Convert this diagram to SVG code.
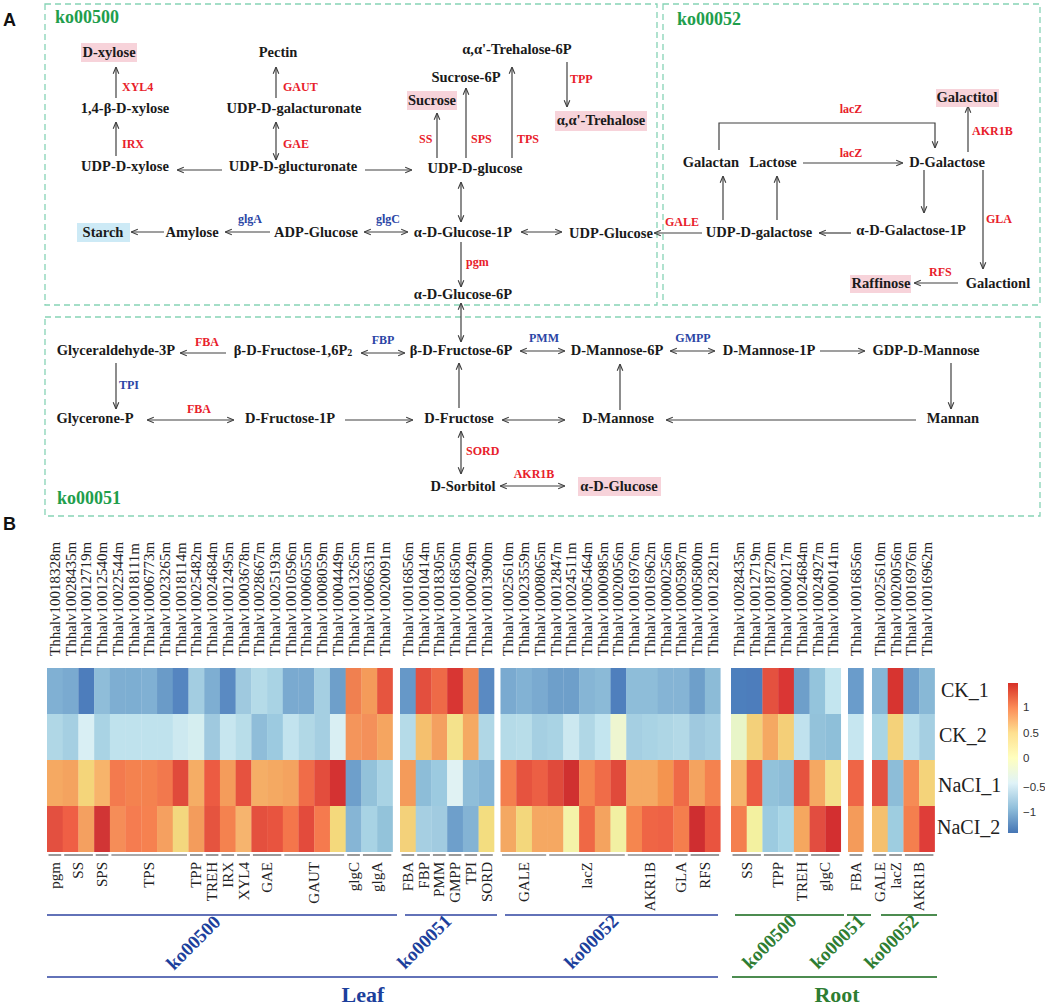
<svg xmlns="http://www.w3.org/2000/svg" width="1045" height="1007" viewBox="0 0 1045 1007">
<style>
.nd{font-family:"Liberation Serif",serif;font-weight:bold;font-size:14.5px;fill:#1a1a1a;text-anchor:middle}
.ez{font-family:"Liberation Serif",serif;font-weight:bold;font-size:12px;fill:#e8202a}
.eb{fill:#2a45a5}
.m{text-anchor:middle}
.ko{font-family:"Liberation Serif",serif;font-weight:bold;font-size:18px;fill:#1f9e4d}
.box{fill:none;stroke:#86d3b5;stroke-width:1.3;stroke-dasharray:6 4}
.hl{fill:#f7d3da}
.hb{fill:#cdeaf6}
.cn{stroke:#404040;stroke-width:1.2;fill:none}
.e{marker-end:url(#ah)}
.d{marker-start:url(#ah);marker-end:url(#ah)}
.pl{font-family:"Liberation Sans",Arial,sans-serif;font-weight:bold;font-size:18px;fill:#111}
.gid{font-family:"Liberation Serif",serif;font-size:15px;fill:#222}
.gl{font-family:"Liberation Serif",serif;font-size:15px;fill:#222;text-anchor:end}
.br{stroke:#555;stroke-width:1.2}
.rl{font-family:"Liberation Serif",serif;font-size:20px;fill:#222}
.tk{font-family:"Liberation Sans",Arial,sans-serif;font-size:11.5px;fill:#333}
.kb{font-family:"Liberation Serif",serif;font-weight:bold;font-size:19px;fill:#1c3f9c}
.kg{font-family:"Liberation Serif",serif;font-weight:bold;font-size:19px;fill:#2e7d32}
.lb{stroke:#6272b8;stroke-width:2}
.lg{stroke:#4c8c50;stroke-width:2}
</style>
<defs>
<marker id="ah" viewBox="0 0 10 10" refX="9.5" refY="5" markerWidth="8" markerHeight="8" markerUnits="userSpaceOnUse" orient="auto-start-reverse"><path d="M1,1.5 L9.5,5 L1,8.5" fill="none" stroke="#404040" stroke-width="1.4"/></marker>
<linearGradient id="cb" x1="0" y1="0" x2="0" y2="1">
<stop offset="0" stop-color="#D73027"/><stop offset="0.167" stop-color="#FC8D59"/><stop offset="0.333" stop-color="#FEE090"/><stop offset="0.5" stop-color="#FFFFBF"/><stop offset="0.667" stop-color="#E0F3F8"/><stop offset="0.833" stop-color="#91BFDB"/><stop offset="1" stop-color="#4575B4"/>
</linearGradient>
</defs>
<rect width="1045" height="1007" fill="#fff"/>
<text class="pl" x="3" y="26">A</text>
<text class="pl" x="3" y="530">B</text>

<g id="boxes">
<rect class="box" x="45" y="4" width="612" height="301"/>
<rect class="box" x="663" y="4" width="377" height="301"/>
<rect class="box" x="45" y="317" width="995" height="199"/>
<text class="ko" x="55" y="23">ko00500</text>
<text class="ko" x="677" y="25">ko00052</text>
<text class="ko" x="57" y="504">ko00051</text>
</g>

<g id="connectors">
<line class="cn e" x1="116" y1="98" x2="116" y2="67"/>
<line class="cn e" x1="116" y1="156" x2="116" y2="122"/>
<line class="cn e" x1="276" y1="98" x2="276" y2="67"/>
<line class="cn d" x1="276" y1="160" x2="276" y2="122"/>
<line class="cn e" x1="222" y1="170" x2="177" y2="170"/>
<line class="cn e" x1="365" y1="170" x2="412" y2="170"/>
<line class="cn e" x1="437" y1="158" x2="437" y2="113"/>
<line class="cn e" x1="466" y1="158" x2="466" y2="88"/>
<line class="cn e" x1="512" y1="158" x2="512" y2="67"/>
<line class="cn e" x1="567" y1="62" x2="567" y2="107"/>
<line class="cn d" x1="461" y1="182" x2="461" y2="222"/>
<line class="cn e" x1="164" y1="232" x2="131" y2="232"/>
<line class="cn e" x1="270" y1="232" x2="225" y2="232"/>
<line class="cn d" x1="364" y1="232" x2="408" y2="232"/>
<line class="cn d" x1="521" y1="232" x2="562" y2="232"/>
<line class="cn e" x1="461" y1="242" x2="461" y2="287"/>
<line class="cn d" x1="461" y1="303" x2="461" y2="342"/>
<line class="cn e" x1="968" y1="152" x2="968" y2="106"/>
<polyline class="cn e" points="719,150 719,123 935,123 935,148"/>
<line class="cn e" x1="803" y1="163" x2="903" y2="163"/>
<line class="cn e" x1="924" y1="170" x2="924" y2="213"/>
<line class="cn e" x1="851" y1="233" x2="819" y2="233"/>
<line class="cn e" x1="723" y1="220" x2="723" y2="176"/>
<line class="cn e" x1="777" y1="220" x2="777" y2="176"/>
<line class="cn e" x1="702" y1="233" x2="654" y2="233"/>
<line class="cn e" x1="983" y1="170" x2="983" y2="269"/>
<line class="cn e" x1="958" y1="283" x2="914" y2="283"/>
<line class="cn e" x1="226" y1="353" x2="180" y2="353"/>
<line class="cn d" x1="361" y1="353" x2="405" y2="353"/>
<line class="cn d" x1="520" y1="351" x2="565" y2="351"/>
<line class="cn d" x1="670" y1="351" x2="715" y2="351"/>
<line class="cn e" x1="820" y1="351" x2="865" y2="351"/>
<line class="cn e" x1="116" y1="363" x2="116" y2="409"/>
<line class="cn d" x1="147" y1="420" x2="234" y2="420"/>
<line class="cn e" x1="345" y1="420" x2="413" y2="420"/>
<line class="cn e" x1="459" y1="408" x2="459" y2="363"/>
<line class="cn d" x1="502" y1="420" x2="565" y2="420"/>
<line class="cn e" x1="951" y1="363" x2="951" y2="409"/>
<line class="cn e" x1="916" y1="420" x2="666" y2="420"/>
<line class="cn e" x1="620" y1="410" x2="620" y2="364"/>
<line class="cn d" x1="461" y1="431" x2="461" y2="474"/>
<line class="cn d" x1="500" y1="486" x2="565" y2="486"/>
</g>

<g id="enzymes">
<text class="ez" x="122" y="91">XYL4</text>
<text class="ez" x="122" y="148">IRX</text>
<text class="ez" x="283" y="91">GAUT</text>
<text class="ez" x="283" y="148">GAE</text>
<text class="ez" x="419" y="143">SS</text>
<text class="ez" x="471" y="143">SPS</text>
<text class="ez" x="517" y="143">TPS</text>
<text class="ez" x="570" y="83">TPP</text>
<text class="ez" x="466" y="266">pgm</text>
<text class="ez eb m" x="250" y="223">glgA</text>
<text class="ez eb m" x="388" y="223">glgC</text>
<text class="ez" x="972" y="135">AKR1B</text>
<text class="ez m" x="851" y="113">lacZ</text>
<text class="ez m" x="851" y="157">lacZ</text>
<text class="ez m" x="682" y="226">GALE</text>
<text class="ez" x="986" y="223">GLA</text>
<text class="ez" x="929" y="276">RFS</text>
<text class="ez m" x="207" y="346">FBA</text>
<text class="ez eb m" x="383" y="344">FBP</text>
<text class="ez eb m" x="544" y="342">PMM</text>
<text class="ez eb m" x="693" y="342">GMPP</text>
<text class="ez eb" x="119" y="389">TPI</text>
<text class="ez m" x="199" y="413">FBA</text>
<text class="ez" x="466" y="455">SORD</text>
<text class="ez m" x="534" y="478">AKR1B</text>
</g>

<g id="n_dxylose"><rect class="hl" x="81" y="43" width="56" height="19"/><text class="nd" x="109" y="57">D-xylose</text></g>
<g id="n_14bdxylose"><text class="nd" x="125" y="113">1,4-β-D-xylose</text></g>
<g id="n_udpdxylose"><text class="nd" x="125" y="171">UDP-D-xylose</text></g>
<g id="n_pectin"><text class="nd" x="278" y="57">Pectin</text></g>
<g id="n_udpdgalacturonate"><text class="nd" x="294" y="113">UDP-D-galacturonate</text></g>
<g id="n_udpdglucturonate"><text class="nd" x="293" y="171">UDP-D-glucturonate</text></g>
<g id="n_udpdglucose"><text class="nd" x="475" y="173">UDP-D-glucose</text></g>
<g id="n_sucrose"><rect class="hl" x="407" y="91" width="50" height="19"/><text class="nd" x="432" y="105">Sucrose</text></g>
<g id="n_sucrose6p"><text class="nd" x="466" y="82">Sucrose-6P</text></g>
<g id="n_trehalose6p"><text class="nd" x="517" y="54">α,α'-Trehalose-6P</text></g>
<g id="n_trehalose"><rect class="hl" x="555" y="111" width="92" height="20"/><text class="nd" x="601" y="125">α,α'-Trehalose</text></g>
<g id="n_starch"><rect class="hb" x="77" y="223" width="53" height="19"/><text class="nd" x="103" y="237">Starch</text></g>
<g id="n_amylose"><text class="nd" x="192" y="237">Amylose</text></g>
<g id="n_adpglucose"><text class="nd" x="316" y="237">ADP-Glucose</text></g>
<g id="n_aglucose1p"><text class="nd" x="463" y="237">α-D-Glucose-1P</text></g>
<g id="n_udpglucose"><text class="nd" x="611" y="238">UDP-Glucose</text></g>
<g id="n_aglucose6p"><text class="nd" x="463" y="299">α-D-Glucose-6P</text></g>

<g id="n_galactitol"><rect class="hl" x="936" y="89" width="63" height="18"/><text class="nd" x="967" y="102">Galactitol</text></g>
<g id="n_galactan"><text class="nd" x="711" y="167">Galactan</text></g>
<g id="n_lactose"><text class="nd" x="773" y="167">Lactose</text></g>
<g id="n_dgalactose"><text class="nd" x="947" y="167">D-Galactose</text></g>
<g id="n_agalactose1p"><text class="nd" x="911" y="235">α-D-Galactose-1P</text></g>
<g id="n_udpdgalactose"><text class="nd" x="759" y="237">UDP-D-galactose</text></g>
<g id="n_galactionl"><text class="nd" x="998" y="288">Galactionl</text></g>
<g id="n_raffinose"><rect class="hl" x="850" y="275" width="61" height="18"/><text class="nd" x="881" y="288">Raffinose</text></g>

<g id="n_glyceraldehyde3p"><text class="nd" x="116" y="355">Glyceraldehyde-3P</text></g>
<g id="n_bdfructose16p2"><text class="nd" x="293" y="355">β-D-Fructose-1,6P<tspan font-size="10" dy="1">2</tspan></text></g>
<g id="n_bdfructose6p"><text class="nd" x="461" y="355">β-D-Fructose-6P</text></g>
<g id="n_dmannose6p"><text class="nd" x="617" y="355">D-Mannose-6P</text></g>
<g id="n_dmannose1p"><text class="nd" x="769" y="355">D-Mannose-1P</text></g>
<g id="n_gdpdmannose"><text class="nd" x="926" y="355">GDP-D-Mannose</text></g>
<g id="n_glyceronep"><text class="nd" x="95" y="423">Glycerone-P</text></g>
<g id="n_dfructose1p"><text class="nd" x="290" y="423">D-Fructose-1P</text></g>
<g id="n_dfructose"><text class="nd" x="459" y="423">D-Fructose</text></g>
<g id="n_dmannose"><text class="nd" x="618" y="423">D-Mannose</text></g>
<g id="n_mannan"><text class="nd" x="953" y="423">Mannan</text></g>
<g id="n_dsorbitol"><text class="nd" x="463" y="491">D-Sorbitol</text></g>
<g id="n_aglucose"><rect class="hl" x="578" y="477" width="83" height="19"/><text class="nd" x="619" y="491">α-D-Glucose</text></g>

<g id="heatmap">
<g transform="translate(0,668)">
<rect x="47" width="16" height="46" fill="#80b0d3"/><rect x="62.72" width="16" height="46" fill="#7aaad0"/><rect x="78.44" width="16" height="46" fill="#4d7dbc"/><rect x="94.16" width="16" height="46" fill="#8fbdd9"/><rect x="109.88" width="16" height="46" fill="#7eaed2"/><rect x="125.6" width="16" height="46" fill="#7daed2"/><rect x="141.32" width="16" height="46" fill="#80b0d3"/><rect x="157.04" width="16" height="46" fill="#6a9bc8"/><rect x="172.76" width="16" height="46" fill="#5585c0"/><rect x="188.48" width="16" height="46" fill="#a3cde1"/><rect x="204.2" width="16" height="46" fill="#7eaed2"/><rect x="219.92" width="16" height="46" fill="#5a8ac2"/><rect x="235.64" width="16" height="46" fill="#9fc9df"/><rect x="251.36" width="16" height="46" fill="#b5dbe8"/><rect x="267.08" width="16" height="46" fill="#a9d3e4"/><rect x="282.8" width="16" height="46" fill="#7aaad0"/><rect x="298.52" width="16" height="46" fill="#7aaad0"/><rect x="314.24" width="16" height="46" fill="#a5cfe2"/><rect x="329.96" width="16" height="46" fill="#6e9fca"/><rect x="345.68" width="16" height="46" fill="#f08050"/><rect x="361.4" width="16" height="46" fill="#f49b5a"/><rect x="377.12" width="15.72" height="46" fill="#e6553f"/>
<rect x="400" width="16" height="46" fill="#6698c8"/><rect x="415.72" width="16" height="46" fill="#e34f3e"/><rect x="431.44" width="16" height="46" fill="#ee6a47"/><rect x="447.16" width="16" height="46" fill="#d83633"/><rect x="462.88" width="16" height="46" fill="#f08350"/><rect x="478.6" width="15.72" height="46" fill="#5a8ac2"/>
<rect x="500.5" width="16" height="46" fill="#7aaad0"/><rect x="516.22" width="16" height="46" fill="#82b2d4"/><rect x="531.94" width="16" height="46" fill="#7aaad0"/><rect x="547.66" width="16" height="46" fill="#6e9fca"/><rect x="563.38" width="16" height="46" fill="#6e9fca"/><rect x="579.1" width="16" height="46" fill="#86b5d5"/><rect x="594.82" width="16" height="46" fill="#8bbad7"/><rect x="610.54" width="16" height="46" fill="#4f7fbd"/><rect x="626.26" width="16" height="46" fill="#8ebdd9"/><rect x="641.98" width="16" height="46" fill="#8ebdd9"/><rect x="657.7" width="16" height="46" fill="#85b4d5"/><rect x="673.42" width="16" height="46" fill="#85b4d5"/><rect x="689.14" width="16" height="46" fill="#6e9fca"/><rect x="704.86" width="15.72" height="46" fill="#8cbbd7"/>
<rect x="731" width="16" height="46" fill="#4d7fbd"/><rect x="746.72" width="16" height="46" fill="#4d7dbc"/><rect x="762.44" width="16" height="46" fill="#e4513f"/><rect x="778.16" width="16" height="46" fill="#da3634"/><rect x="793.88" width="16" height="46" fill="#6e9fca"/><rect x="809.6" width="16" height="46" fill="#94c4dc"/><rect x="825.32" width="15.72" height="46" fill="#c3e5ef"/>
<rect x="848" width="15.72" height="46" fill="#6a9ccb"/>
<rect x="872" width="16" height="46" fill="#86b6d6"/><rect x="887.72" width="16" height="46" fill="#d73430"/><rect x="903.44" width="16" height="46" fill="#6e9fcb"/><rect x="919.16" width="15.72" height="46" fill="#88b8d6"/>
</g>
<g transform="translate(0,714)">
<rect x="47" width="16" height="46" fill="#b0d7e6"/><rect x="62.72" width="16" height="46" fill="#a5cfe2"/><rect x="78.44" width="16" height="46" fill="#d9eff4"/><rect x="94.16" width="16" height="46" fill="#a9d3e4"/><rect x="109.88" width="16" height="46" fill="#bfe2ed"/><rect x="125.6" width="16" height="46" fill="#bfe2ed"/><rect x="141.32" width="16" height="46" fill="#bfe2ed"/><rect x="157.04" width="16" height="46" fill="#bfe2ed"/><rect x="172.76" width="16" height="46" fill="#cde9f0"/><rect x="188.48" width="16" height="46" fill="#d5eef0"/><rect x="204.2" width="16" height="46" fill="#9fc9df"/><rect x="219.92" width="16" height="46" fill="#c7e6ef"/><rect x="235.64" width="16" height="46" fill="#b8dde9"/><rect x="251.36" width="16" height="46" fill="#8fbdd9"/><rect x="267.08" width="16" height="46" fill="#9ccae0"/><rect x="282.8" width="16" height="46" fill="#c2e3ee"/><rect x="298.52" width="16" height="46" fill="#b1d8e6"/><rect x="314.24" width="16" height="46" fill="#a5cfe2"/><rect x="329.96" width="16" height="46" fill="#d9eff3"/><rect x="345.68" width="16" height="46" fill="#f4955b"/><rect x="361.4" width="16" height="46" fill="#f4905a"/><rect x="377.12" width="15.72" height="46" fill="#f5a560"/>
<rect x="400" width="16" height="46" fill="#b5dbe8"/><rect x="415.72" width="16" height="46" fill="#f5c06e"/><rect x="431.44" width="16" height="46" fill="#f4a060"/><rect x="447.16" width="16" height="46" fill="#f4e28c"/><rect x="462.88" width="16" height="46" fill="#f5a962"/><rect x="478.6" width="15.72" height="46" fill="#b0d7e6"/>
<rect x="500.5" width="16" height="46" fill="#b5dbe8"/><rect x="516.22" width="16" height="46" fill="#b8dde9"/><rect x="531.94" width="16" height="46" fill="#a5cfe2"/><rect x="547.66" width="16" height="46" fill="#a9d3e4"/><rect x="563.38" width="16" height="46" fill="#cce8f0"/><rect x="579.1" width="16" height="46" fill="#b0d7e6"/><rect x="594.82" width="16" height="46" fill="#c3e5ef"/><rect x="610.54" width="16" height="46" fill="#eef6d0"/><rect x="626.26" width="16" height="46" fill="#a5cfe2"/><rect x="641.98" width="16" height="46" fill="#a9d3e4"/><rect x="657.7" width="16" height="46" fill="#aed6e5"/><rect x="673.42" width="16" height="46" fill="#b3d9e7"/><rect x="689.14" width="16" height="46" fill="#9fc9df"/><rect x="704.86" width="15.72" height="46" fill="#a5cfe2"/>
<rect x="731" width="16" height="46" fill="#e8f5c8"/><rect x="746.72" width="16" height="46" fill="#f3d07a"/><rect x="762.44" width="16" height="46" fill="#f5a862"/><rect x="778.16" width="16" height="46" fill="#f4cf78"/><rect x="793.88" width="16" height="46" fill="#c0e2ee"/><rect x="809.6" width="16" height="46" fill="#93c2da"/><rect x="825.32" width="15.72" height="46" fill="#8ebfd9"/>
<rect x="848" width="15.72" height="46" fill="#c6e6f0"/>
<rect x="872" width="16" height="46" fill="#a9d5e5"/><rect x="887.72" width="16" height="46" fill="#f4d27a"/><rect x="903.44" width="16" height="46" fill="#bce0ec"/><rect x="919.16" width="15.72" height="46" fill="#a5cfe2"/>
</g>
<g transform="translate(0,760)">
<rect x="47" width="16" height="46" fill="#f5a962"/><rect x="62.72" width="16" height="46" fill="#f4a35f"/><rect x="78.44" width="16" height="46" fill="#f4d57a"/><rect x="94.16" width="16" height="46" fill="#f7b46b"/><rect x="109.88" width="16" height="46" fill="#f37a4e"/><rect x="125.6" width="16" height="46" fill="#f4824f"/><rect x="141.32" width="16" height="46" fill="#f4824f"/><rect x="157.04" width="16" height="46" fill="#f2784d"/><rect x="172.76" width="16" height="46" fill="#e04a3b"/><rect x="188.48" width="16" height="46" fill="#f5ad65"/><rect x="204.2" width="16" height="46" fill="#ec5b42"/><rect x="219.92" width="16" height="46" fill="#f49c5b"/><rect x="235.64" width="16" height="46" fill="#e6523f"/><rect x="251.36" width="16" height="46" fill="#f5ae66"/><rect x="267.08" width="16" height="46" fill="#f4a962"/><rect x="282.8" width="16" height="46" fill="#f4a35f"/><rect x="298.52" width="16" height="46" fill="#f06c48"/><rect x="314.24" width="16" height="46" fill="#e34d3d"/><rect x="329.96" width="16" height="46" fill="#d43232"/><rect x="345.68" width="16" height="46" fill="#6e9fcb"/><rect x="361.4" width="16" height="46" fill="#93c2da"/><rect x="377.12" width="15.72" height="46" fill="#a9d3e4"/>
<rect x="400" width="16" height="46" fill="#f49b5a"/><rect x="415.72" width="16" height="46" fill="#8dbdd8"/><rect x="431.44" width="16" height="46" fill="#9ccae0"/><rect x="447.16" width="16" height="46" fill="#e0f2f3"/><rect x="462.88" width="16" height="46" fill="#8fbed9"/><rect x="478.6" width="15.72" height="46" fill="#86b6d6"/>
<rect x="500.5" width="16" height="46" fill="#f47f4e"/><rect x="516.22" width="16" height="46" fill="#e6533f"/><rect x="531.94" width="16" height="46" fill="#ec5f44"/><rect x="547.66" width="16" height="46" fill="#e04a3b"/><rect x="563.38" width="16" height="46" fill="#d03030"/><rect x="579.1" width="16" height="46" fill="#f4874f"/><rect x="594.82" width="16" height="46" fill="#f06c48"/><rect x="610.54" width="16" height="46" fill="#e04a3b"/><rect x="626.26" width="16" height="46" fill="#f5a962"/><rect x="641.98" width="16" height="46" fill="#f5a962"/><rect x="657.7" width="16" height="46" fill="#f4944f"/><rect x="673.42" width="16" height="46" fill="#ef6a47"/><rect x="689.14" width="16" height="46" fill="#f4a35f"/><rect x="704.86" width="15.72" height="46" fill="#f4824f"/>
<rect x="731" width="16" height="46" fill="#f5b46a"/><rect x="746.72" width="16" height="46" fill="#ec5b42"/><rect x="762.44" width="16" height="46" fill="#92c2da"/><rect x="778.16" width="16" height="46" fill="#8dbdd8"/><rect x="793.88" width="16" height="46" fill="#e6523f"/><rect x="809.6" width="16" height="46" fill="#f5a862"/><rect x="825.32" width="15.72" height="46" fill="#f4e08a"/>
<rect x="848" width="15.72" height="46" fill="#ef6546"/>
<rect x="872" width="16" height="46" fill="#e45040"/><rect x="887.72" width="16" height="46" fill="#8dbdd8"/><rect x="903.44" width="16" height="46" fill="#f68b55"/><rect x="919.16" width="15.72" height="46" fill="#f4d37a"/>
</g>
<g transform="translate(0,806)">
<rect x="47" width="16" height="46" fill="#e35040"/><rect x="62.72" width="16" height="46" fill="#ef5f45"/><rect x="78.44" width="16" height="46" fill="#f4a060"/><rect x="94.16" width="16" height="46" fill="#d13535"/><rect x="109.88" width="16" height="46" fill="#f58d58"/><rect x="125.6" width="16" height="46" fill="#f57c50"/><rect x="141.32" width="16" height="46" fill="#f68150"/><rect x="157.04" width="16" height="46" fill="#f5a060"/><rect x="172.76" width="16" height="46" fill="#f3d77e"/><rect x="188.48" width="16" height="46" fill="#f39c5c"/><rect x="204.2" width="16" height="46" fill="#e5543f"/><rect x="219.92" width="16" height="46" fill="#f4824f"/><rect x="235.64" width="16" height="46" fill="#f6b46e"/><rect x="251.36" width="16" height="46" fill="#e4503e"/><rect x="267.08" width="16" height="46" fill="#e8543f"/><rect x="282.8" width="16" height="46" fill="#f4764b"/><rect x="298.52" width="16" height="46" fill="#e34b3c"/><rect x="314.24" width="16" height="46" fill="#f57a4e"/><rect x="329.96" width="16" height="46" fill="#f4d97c"/><rect x="345.68" width="16" height="46" fill="#86b5d5"/><rect x="361.4" width="16" height="46" fill="#a8d3e4"/><rect x="377.12" width="15.72" height="46" fill="#93c3da"/>
<rect x="400" width="16" height="46" fill="#f3d17a"/><rect x="415.72" width="16" height="46" fill="#a6cfe2"/><rect x="431.44" width="16" height="46" fill="#a1cbe0"/><rect x="447.16" width="16" height="46" fill="#6e9fcb"/><rect x="462.88" width="16" height="46" fill="#84b3d4"/><rect x="478.6" width="15.72" height="46" fill="#f3dd80"/>
<rect x="500.5" width="16" height="46" fill="#f4a862"/><rect x="516.22" width="16" height="46" fill="#f3d77c"/><rect x="531.94" width="16" height="46" fill="#f5a862"/><rect x="547.66" width="16" height="46" fill="#f5a862"/><rect x="563.38" width="16" height="46" fill="#f4f3a8"/><rect x="579.1" width="16" height="46" fill="#ef6845"/><rect x="594.82" width="16" height="46" fill="#f4a35f"/><rect x="610.54" width="16" height="46" fill="#f2f0a2"/><rect x="626.26" width="16" height="46" fill="#f5864f"/><rect x="641.98" width="16" height="46" fill="#ef6545"/><rect x="657.7" width="16" height="46" fill="#ee6245"/><rect x="673.42" width="16" height="46" fill="#f47e4d"/><rect x="689.14" width="16" height="46" fill="#cf2e30"/><rect x="704.86" width="15.72" height="46" fill="#e9543f"/>
<rect x="731" width="16" height="46" fill="#f47f4e"/><rect x="746.72" width="16" height="46" fill="#f3f1a0"/><rect x="762.44" width="16" height="46" fill="#9ccbe0"/><rect x="778.16" width="16" height="46" fill="#a9d6e6"/><rect x="793.88" width="16" height="46" fill="#f5a75f"/><rect x="809.6" width="16" height="46" fill="#e24d40"/><rect x="825.32" width="15.72" height="46" fill="#d32f30"/>
<rect x="848" width="15.72" height="46" fill="#f49b5a"/>
<rect x="872" width="16" height="46" fill="#f5c06e"/><rect x="887.72" width="16" height="46" fill="#9ecde0"/><rect x="903.44" width="16" height="46" fill="#f47f4e"/><rect x="919.16" width="15.72" height="46" fill="#df3d38"/>
</g>
</g>

<g id="gene_ids" class="gid">
<text transform="translate(59.9,656) rotate(-90)">Thhalv10018328m</text>
<text transform="translate(75.6,656) rotate(-90)">Thhalv10028435m</text>
<text transform="translate(91.3,656) rotate(-90)">Thhalv10012719m</text>
<text transform="translate(107,656) rotate(-90)">Thhalv10012540m</text>
<text transform="translate(122.7,656) rotate(-90)">Thhalv10022544m</text>
<text transform="translate(138.5,656) rotate(-90)">Thhalv10018111m</text>
<text transform="translate(154.2,656) rotate(-90)">Thhalv10006773m</text>
<text transform="translate(169.9,656) rotate(-90)">Thhalv10023265m</text>
<text transform="translate(185.6,656) rotate(-90)">Thhalv10018114m</text>
<text transform="translate(201.3,656) rotate(-90)">Thhalv10025482m</text>
<text transform="translate(217.1,656) rotate(-90)">Thhalv10024684m</text>
<text transform="translate(232.8,656) rotate(-90)">Thhalv10012495m</text>
<text transform="translate(248.5,656) rotate(-90)">Thhalv10003678m</text>
<text transform="translate(264.2,656) rotate(-90)">Thhalv10028667m</text>
<text transform="translate(279.9,656) rotate(-90)">Thhalv10025193m</text>
<text transform="translate(295.7,656) rotate(-90)">Thhalv10010596m</text>
<text transform="translate(311.4,656) rotate(-90)">Thhalv10006055m</text>
<text transform="translate(327.1,656) rotate(-90)">Thhalv10008059m</text>
<text transform="translate(342.8,656) rotate(-90)">Thhalv10004449m</text>
<text transform="translate(358.5,656) rotate(-90)">Thhalv10013265m</text>
<text transform="translate(374.3,656) rotate(-90)">Thhalv10006631m</text>
<text transform="translate(390,656) rotate(-90)">Thhalv10020091m</text>
<text transform="translate(412.9,656) rotate(-90)">Thhalv10016856m</text>
<text transform="translate(428.6,656) rotate(-90)">Thhalv10010414m</text>
<text transform="translate(444.3,656) rotate(-90)">Thhalv10018305m</text>
<text transform="translate(460,656) rotate(-90)">Thhalv10016850m</text>
<text transform="translate(475.7,656) rotate(-90)">Thhalv10000249m</text>
<text transform="translate(491.5,656) rotate(-90)">Thhalv10013900m</text>
<text transform="translate(513.4,656) rotate(-90)">Thhalv10025610m</text>
<text transform="translate(529.1,656) rotate(-90)">Thhalv10023559m</text>
<text transform="translate(544.8,656) rotate(-90)">Thhalv10008065m</text>
<text transform="translate(560.5,656) rotate(-90)">Thhalv10012847m</text>
<text transform="translate(576.2,656) rotate(-90)">Thhalv10024511m</text>
<text transform="translate(592,656) rotate(-90)">Thhalv10005464m</text>
<text transform="translate(607.7,656) rotate(-90)">Thhalv10000985m</text>
<text transform="translate(623.4,656) rotate(-90)">Thhalv10020056m</text>
<text transform="translate(639.1,656) rotate(-90)">Thhalv10016976m</text>
<text transform="translate(654.8,656) rotate(-90)">Thhalv10016962m</text>
<text transform="translate(670.6,656) rotate(-90)">Thhalv10000256m</text>
<text transform="translate(686.3,656) rotate(-90)">Thhalv10005987m</text>
<text transform="translate(702,656) rotate(-90)">Thhalv10005800m</text>
<text transform="translate(717.7,656) rotate(-90)">Thhalv10012821m</text>
<text transform="translate(743.9,656) rotate(-90)">Thhalv10028435m</text>
<text transform="translate(759.6,656) rotate(-90)">Thhalv10012719m</text>
<text transform="translate(775.3,656) rotate(-90)">Thhalv10018720m</text>
<text transform="translate(791,656) rotate(-90)">Thhalv10000217m</text>
<text transform="translate(806.7,656) rotate(-90)">Thhalv10024684m</text>
<text transform="translate(822.5,656) rotate(-90)">Thhalv10024927m</text>
<text transform="translate(838.2,656) rotate(-90)">Thhalv10000141m</text>
<text transform="translate(860.9,656) rotate(-90)">Thhalv10016856m</text>
<text transform="translate(884.9,656) rotate(-90)">Thhalv10025610m</text>
<text transform="translate(900.6,656) rotate(-90)">Thhalv10020056m</text>
<text transform="translate(916.3,656) rotate(-90)">Thhalv10016976m</text>
<text transform="translate(932,656) rotate(-90)">Thhalv10016962m</text>
</g>

<g id="row_labels" class="rl">
<text x="941" y="697">CK_1</text>
<text x="939" y="742">CK_2</text>
<text x="938" y="792">NaCI_1</text>
<text x="937" y="834">NaCI_2</text>
</g>

<g id="colorbar">
<rect x="1008" y="683" width="10" height="150" fill="url(#cb)"/>
<text class="tk" x="1023" y="711">1</text>
<text class="tk" x="1023" y="737">0.5</text>
<text class="tk" x="1023" y="762">0</text>
<text class="tk" x="1023" y="791">−0.5</text>
<text class="tk" x="1023" y="816">−1</text>
</g>

<g id="gene_brackets">
<line class="br" x1="48.5" y1="855" x2="61.2" y2="855"/>
<line class="br" x1="64.2" y1="855" x2="92.9" y2="855"/>
<line class="br" x1="95.7" y1="855" x2="108.4" y2="855"/>
<line class="br" x1="111.4" y1="855" x2="187" y2="855"/>
<line class="br" x1="190" y1="855" x2="202.7" y2="855"/>
<line class="br" x1="205.7" y1="855" x2="218.4" y2="855"/>
<line class="br" x1="221.4" y1="855" x2="234.1" y2="855"/>
<line class="br" x1="237.1" y1="855" x2="249.9" y2="855"/>
<line class="br" x1="252.9" y1="855" x2="281.3" y2="855"/>
<line class="br" x1="284.3" y1="855" x2="344.2" y2="855"/>
<line class="br" x1="347.2" y1="855" x2="359.9" y2="855"/>
<line class="br" x1="362.9" y1="855" x2="391.3" y2="855"/>
<line class="br" x1="401.5" y1="855" x2="414.2" y2="855"/>
<line class="br" x1="417.2" y1="855" x2="429.9" y2="855"/>
<line class="br" x1="432.9" y1="855" x2="445.7" y2="855"/>
<line class="br" x1="448.7" y1="855" x2="461.4" y2="855"/>
<line class="br" x1="464.4" y1="855" x2="477.1" y2="855"/>
<line class="br" x1="480.1" y1="855" x2="492.8" y2="855"/>
<line class="br" x1="502" y1="855" x2="546.2" y2="855"/>
<line class="br" x1="549.2" y1="855" x2="624.8" y2="855"/>
<line class="br" x1="627.8" y1="855" x2="671.9" y2="855"/>
<line class="br" x1="674.9" y1="855" x2="687.6" y2="855"/>
<line class="br" x1="690.6" y1="855" x2="719.1" y2="855"/>
<line class="br" x1="732.5" y1="855" x2="760.9" y2="855"/>
<line class="br" x1="763.9" y1="855" x2="792.4" y2="855"/>
<line class="br" x1="795.4" y1="855" x2="808.1" y2="855"/>
<line class="br" x1="811.1" y1="855" x2="839.5" y2="855"/>
<line class="br" x1="849.5" y1="855" x2="862.2" y2="855"/>
<line class="br" x1="873.5" y1="855" x2="886.2" y2="855"/>
<line class="br" x1="889.2" y1="855" x2="901.9" y2="855"/>
<line class="br" x1="904.9" y1="855" x2="933.4" y2="855"/>
</g>

<g id="gene_labels" class="gl">
<text transform="translate(59.9,862) rotate(-90)">pgm</text>
<text transform="translate(83.4,862) rotate(-90)">SS</text>
<text transform="translate(107,862) rotate(-90)">SPS</text>
<text transform="translate(154.2,862) rotate(-90)">TPS</text>
<text transform="translate(201.3,862) rotate(-90)">TPP</text>
<text transform="translate(217.1,862) rotate(-90)">TREH</text>
<text transform="translate(232.8,862) rotate(-90)">IRX</text>
<text transform="translate(248.5,862) rotate(-90)">XYL4</text>
<text transform="translate(272.1,862) rotate(-90)">GAE</text>
<text transform="translate(319.2,862) rotate(-90)">GAUT</text>
<text transform="translate(358.5,862) rotate(-90)">glgC</text>
<text transform="translate(382.1,862) rotate(-90)">glgA</text>
<text transform="translate(412.9,862) rotate(-90)">FBA</text>
<text transform="translate(428.6,862) rotate(-90)">FBP</text>
<text transform="translate(444.3,862) rotate(-90)">PMM</text>
<text transform="translate(460,862) rotate(-90)">GMPP</text>
<text transform="translate(475.7,862) rotate(-90)">TPI</text>
<text transform="translate(491.5,862) rotate(-90)">SORD</text>
<text transform="translate(529.1,862) rotate(-90)">GALE</text>
<text transform="translate(592,862) rotate(-90)">lacZ</text>
<text transform="translate(654.8,862) rotate(-90)">AKR1B</text>
<text transform="translate(686.3,862) rotate(-90)">GLA</text>
<text transform="translate(709.9,862) rotate(-90)">RFS</text>
<text transform="translate(751.7,862) rotate(-90)">SS</text>
<text transform="translate(783.2,862) rotate(-90)">TPP</text>
<text transform="translate(806.7,862) rotate(-90)">TREH</text>
<text transform="translate(830.3,862) rotate(-90)">glgC</text>
<text transform="translate(860.9,862) rotate(-90)">FBA</text>
<text transform="translate(884.9,862) rotate(-90)">GALE</text>
<text transform="translate(900.6,862) rotate(-90)">lacZ</text>
<text transform="translate(924.2,862) rotate(-90)">AKR1B</text>
</g>

<g id="pathway_groups">
<line class="lb" x1="47" y1="915" x2="397" y2="915"/>
<line class="lb" x1="405" y1="915" x2="497" y2="915"/>
<line class="lb" x1="505" y1="915" x2="718" y2="915"/>
<line class="lg" x1="735" y1="915" x2="844" y2="915"/>
<line class="lg" x1="847" y1="915" x2="871" y2="915"/>
<line class="lg" x1="881" y1="915" x2="937" y2="915"/>
<text class="kb" transform="translate(174,971) rotate(-45)">ko00500</text>
<text class="kb" transform="translate(405,970) rotate(-45)">ko00051</text>
<text class="kb" transform="translate(572,970) rotate(-45)">ko00052</text>
<text class="kg" transform="translate(750,970) rotate(-45)">ko00500</text>
<text class="kg" transform="translate(818,970) rotate(-45)">ko00051</text>
<text class="kg" transform="translate(872,970) rotate(-45)">ko00052</text>
<line class="lb" x1="47" y1="977" x2="718" y2="977"/>
<line class="lg" x1="732" y1="977" x2="937" y2="977"/>
<text class="kb" x="363" y="1002" font-size="22" text-anchor="middle" style="font-size:22px">Leaf</text>
<text class="kg" x="837" y="1002" text-anchor="middle" style="font-size:22px">Root</text>
</g>
</svg>
